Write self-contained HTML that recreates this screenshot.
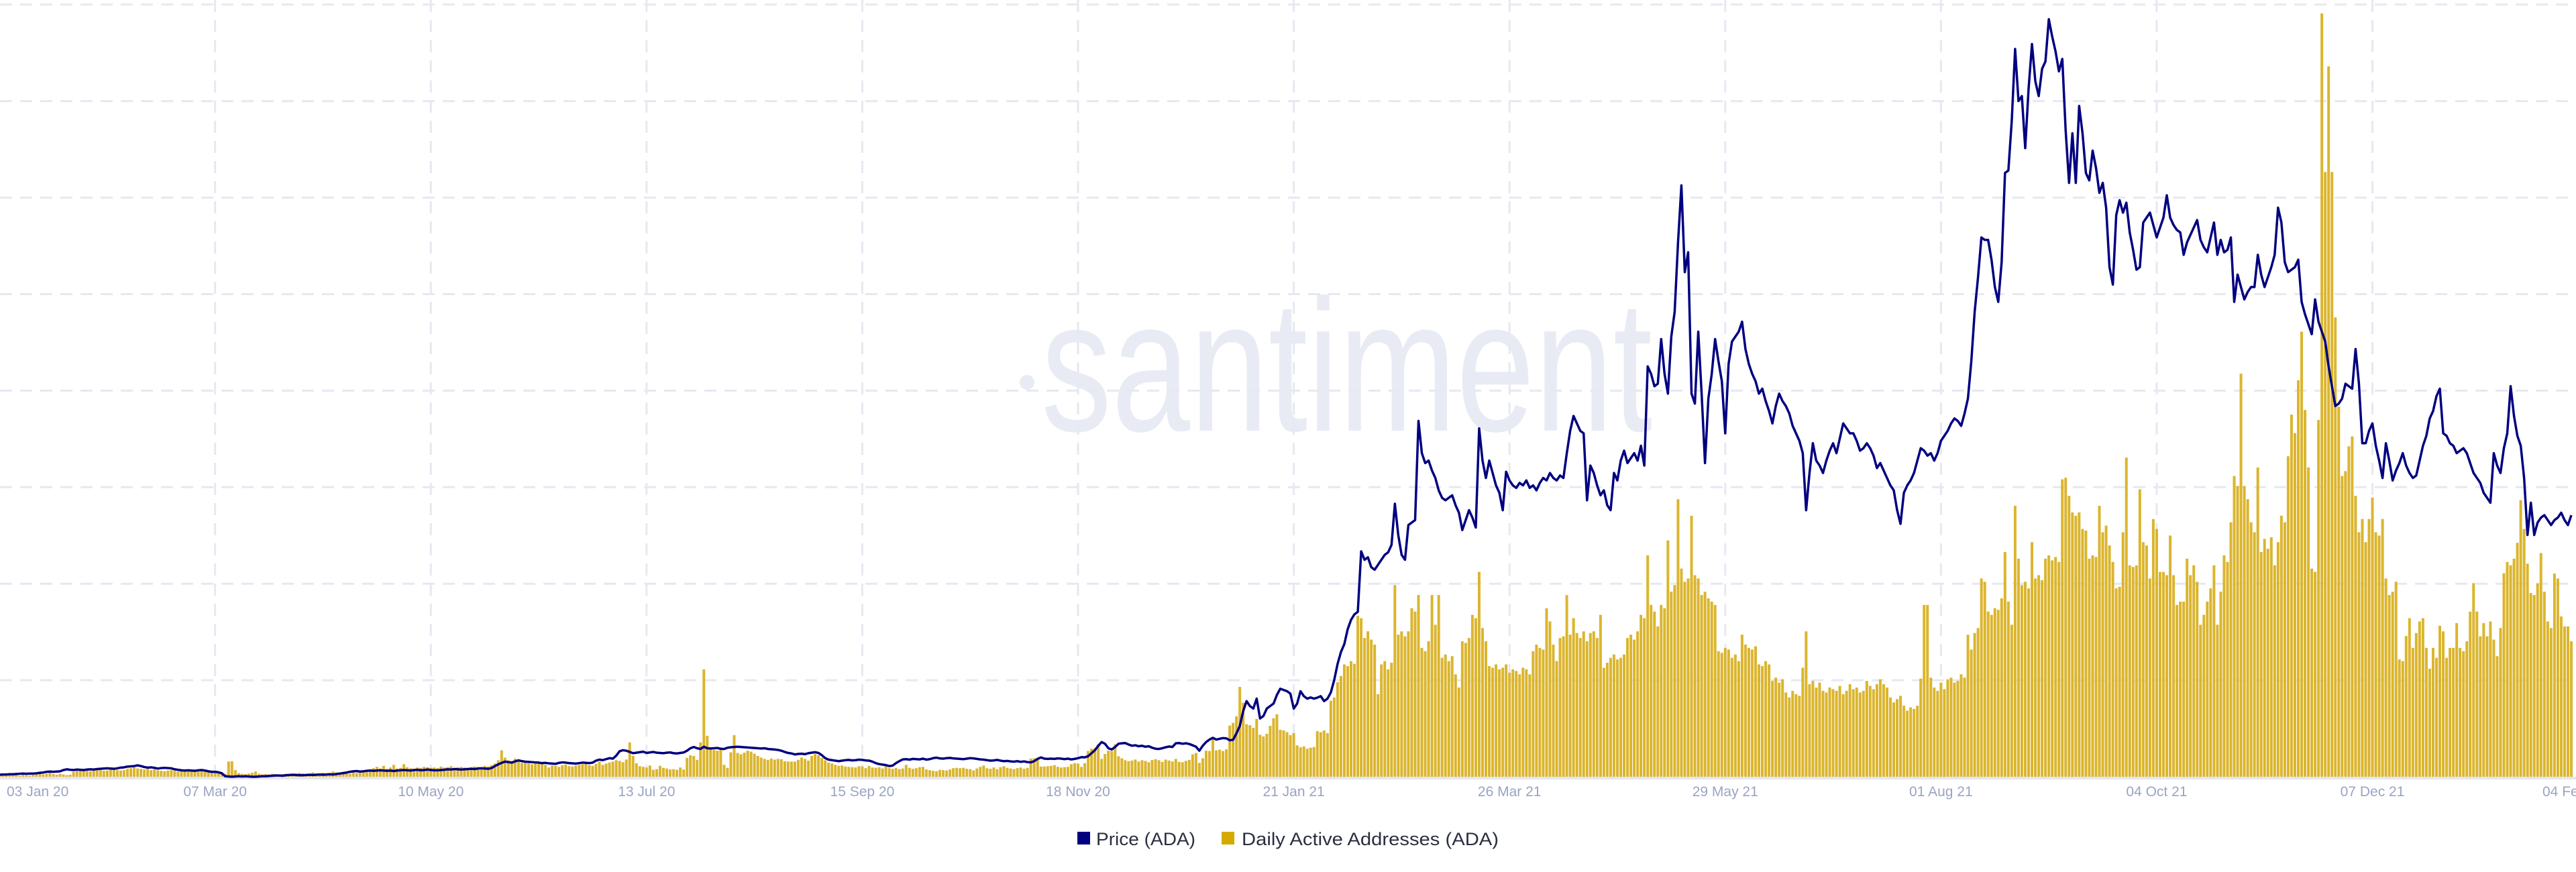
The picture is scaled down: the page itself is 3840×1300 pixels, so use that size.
<!DOCTYPE html>
<html><head><meta charset="utf-8"><title>ADA Price vs Daily Active Addresses</title>
<style>
html,body{margin:0;padding:0;background:#fff;}
svg{display:block;font-family:"Liberation Sans",sans-serif;}
</style></head>
<body>
<svg id="chart" width="3840" height="1300" viewBox="0 0 3840 1300" xmlns="http://www.w3.org/2000/svg">
<rect x="0" y="0" width="3840" height="1300" fill="#ffffff"/>
<g>
<circle cx="1531" cy="570" r="11" fill="#e9ebf4"/>
<text x="1552" y="642" font-size="280" fill="#e9ebf4" textLength="911" lengthAdjust="spacingAndGlyphs">santiment</text>
</g>
<g id="grid"></g>
<line x1="0" y1="1160" x2="3840" y2="1160" stroke="#e3e6f0" stroke-width="4"/>
<g id="bars"></g>
<g id="line"></g>
<g id="ticks"></g>
<g>
<g>
<rect x="1606" y="1240" width="19" height="19" fill="#000080"/>
<text x="1634" y="1260" font-size="27" fill="#2a2e3e" textLength="148" lengthAdjust="spacingAndGlyphs">Price (ADA)</text>
</g>
<g>
<rect x="1821" y="1240" width="19" height="19" fill="#d4aa00"/>
<text x="1851" y="1260" font-size="27" fill="#2a2e3e" textLength="383" lengthAdjust="spacingAndGlyphs">Daily Active Addresses (ADA)</text>
</g>
</g>
</svg>
<script>
const startDay = 2;
const priceValues = [
0.033,0.034,0.034,0.035,0.035,0.036,0.037,0.038,0.037,0.038,
0.038,0.039,0.041,0.042,0.045,0.046,0.045,0.046,0.047,0.052,
0.055,0.053,0.052,0.054,0.053,0.052,0.054,0.055,0.054,0.056,
0.057,0.058,0.059,0.058,0.057,0.059,0.062,0.063,0.066,0.067,
0.068,0.071,0.068,0.064,0.062,0.063,0.061,0.058,0.060,0.061,
0.060,0.059,0.055,0.053,0.051,0.050,0.051,0.050,0.049,0.051,
0.052,0.050,0.047,0.045,0.045,0.043,0.039,0.027,0.026,0.025,
0.026,0.027,0.026,0.027,0.026,0.025,0.025,0.026,0.027,0.027,
0.028,0.029,0.030,0.030,0.029,0.031,0.032,0.033,0.032,0.031,
0.031,0.032,0.033,0.032,0.033,0.034,0.033,0.034,0.035,0.034,
0.036,0.038,0.040,0.042,0.045,0.047,0.048,0.046,0.047,0.049,
0.050,0.049,0.050,0.051,0.050,0.049,0.050,0.048,0.050,0.051,
0.052,0.051,0.050,0.052,0.053,0.051,0.052,0.054,0.052,0.051,
0.051,0.052,0.053,0.055,0.054,0.056,0.055,0.054,0.055,0.056,
0.057,0.056,0.058,0.059,0.058,0.057,0.060,0.068,0.075,0.081,
0.086,0.084,0.082,0.087,0.091,0.088,0.086,0.085,0.084,0.083,
0.082,0.080,0.081,0.079,0.078,0.077,0.081,0.083,0.082,0.080,
0.079,0.078,0.080,0.082,0.081,0.080,0.082,0.090,0.094,0.092,
0.096,0.100,0.098,0.110,0.128,0.132,0.130,0.125,0.120,0.122,
0.124,0.126,0.121,0.123,0.125,0.122,0.121,0.120,0.122,0.123,
0.120,0.119,0.121,0.123,0.130,0.140,0.145,0.140,0.137,0.146,
0.140,0.139,0.140,0.141,0.138,0.137,0.142,0.144,0.145,0.146,
0.145,0.144,0.143,0.142,0.141,0.140,0.139,0.140,0.137,0.136,
0.135,0.133,0.130,0.125,0.121,0.119,0.115,0.117,0.118,0.116,
0.120,0.122,0.124,0.121,0.112,0.100,0.094,0.092,0.090,0.088,
0.090,0.092,0.093,0.091,0.092,0.094,0.093,0.091,0.090,0.086,
0.080,0.076,0.074,0.072,0.068,0.070,0.080,0.088,0.095,0.096,
0.094,0.097,0.096,0.095,0.098,0.094,0.096,0.100,0.102,0.099,
0.098,0.100,0.101,0.099,0.098,0.097,0.096,0.098,0.100,0.099,
0.097,0.095,0.094,0.092,0.090,0.091,0.093,0.090,0.088,0.089,
0.087,0.086,0.088,0.085,0.087,0.084,0.083,0.088,0.097,0.103,
0.098,0.097,0.098,0.097,0.099,0.098,0.096,0.098,0.095,0.097,
0.100,0.104,0.103,0.108,0.120,0.132,0.150,0.165,0.158,0.140,
0.135,0.145,0.158,0.160,0.161,0.155,0.150,0.152,0.148,0.150,
0.146,0.148,0.142,0.138,0.137,0.140,0.144,0.147,0.145,0.160,
0.161,0.158,0.160,0.157,0.152,0.146,0.130,0.150,0.165,0.175,
0.182,0.175,0.178,0.181,0.180,0.172,0.174,0.200,0.230,0.290,
0.330,0.310,0.300,0.340,0.260,0.270,0.300,0.310,0.320,0.355,
0.380,0.375,0.370,0.360,0.300,0.320,0.370,0.350,0.340,0.345,
0.340,0.344,0.350,0.330,0.340,0.365,0.415,0.480,0.528,0.560,
0.620,0.658,0.680,0.690,0.934,0.900,0.910,0.870,0.860,0.880,
0.900,0.920,0.930,0.960,1.126,1.000,0.920,0.900,1.040,1.050,
1.060,1.460,1.330,1.290,1.300,1.260,1.230,1.180,1.150,1.140,
1.150,1.160,1.120,1.090,1.020,1.060,1.100,1.070,1.030,1.430,
1.300,1.230,1.300,1.250,1.200,1.170,1.100,1.255,1.220,1.200,
1.190,1.210,1.200,1.220,1.190,1.200,1.180,1.210,1.230,1.220,
1.250,1.230,1.220,1.240,1.230,1.330,1.420,1.480,1.450,1.420,
1.410,1.140,1.280,1.250,1.200,1.160,1.180,1.120,1.100,1.250,
1.220,1.300,1.340,1.290,1.310,1.330,1.300,1.360,1.280,1.680,
1.650,1.600,1.610,1.790,1.650,1.570,1.800,1.900,2.180,2.410,
2.060,2.140,1.570,1.530,1.820,1.570,1.290,1.550,1.650,1.790,
1.700,1.620,1.410,1.690,1.780,1.800,1.820,1.860,1.750,1.690,
1.650,1.620,1.570,1.590,1.540,1.500,1.450,1.520,1.570,1.540,
1.520,1.490,1.440,1.410,1.380,1.330,1.100,1.250,1.370,1.300,
1.280,1.250,1.300,1.340,1.370,1.330,1.390,1.450,1.430,1.410,
1.410,1.380,1.340,1.350,1.370,1.350,1.320,1.270,1.290,1.260,
1.230,1.200,1.180,1.100,1.045,1.170,1.200,1.220,1.250,1.300,
1.350,1.340,1.320,1.330,1.300,1.330,1.380,1.400,1.420,1.450,
1.470,1.460,1.440,1.490,1.550,1.700,1.900,2.040,2.200,2.190,
2.190,2.110,2.000,1.940,2.100,2.460,2.470,2.670,2.960,2.750,
2.770,2.560,2.800,2.980,2.830,2.770,2.880,2.910,3.080,3.010,
2.950,2.870,2.920,2.630,2.420,2.620,2.420,2.730,2.620,2.460,
2.430,2.550,2.480,2.380,2.420,2.320,2.080,2.010,2.290,2.350,
2.300,2.340,2.220,2.150,2.070,2.080,2.260,2.280,2.300,2.250,
2.200,2.240,2.280,2.370,2.280,2.250,2.230,2.220,2.130,2.180,
2.210,2.240,2.270,2.190,2.160,2.140,2.200,2.260,2.130,2.190,
2.140,2.150,2.200,1.940,2.050,2.000,1.950,1.980,2.000,2.000,
2.130,2.050,2.000,2.040,2.080,2.130,2.320,2.260,2.100,2.060,
2.070,2.080,2.110,1.940,1.890,1.850,1.810,1.950,1.860,1.820,
1.780,1.680,1.600,1.520,1.530,1.550,1.610,1.600,1.590,1.750,
1.610,1.370,1.370,1.420,1.450,1.360,1.300,1.230,1.370,1.300,
1.220,1.260,1.290,1.330,1.280,1.250,1.230,1.240,1.300,1.360,
1.400,1.470,1.500,1.560,1.590,1.410,1.400,1.370,1.360,1.330,
1.340,1.350,1.330,1.290,1.250,1.230,1.210,1.170,1.150,1.130,
1.330,1.280,1.250,1.350,1.410,1.600,1.480,1.400,1.360,1.230,
1.000,1.130,1.000,1.050,1.070,1.080,1.060,1.040,1.060,1.070,
1.090,1.060,1.040,1.080
];
const addressValues = [
0.4,0.3,0.5,0.6,0.4,0.5,0.3,0.6,0.5,0.4,
0.6,0.8,1.0,0.7,0.9,1.2,0.8,0.6,0.9,0.7,
0.5,0.6,1.5,1.8,1.9,2.0,1.8,1.7,1.9,2.1,
2.0,1.8,1.9,2.2,2.1,2.0,1.9,2.0,2.4,2.6,
2.8,2.5,2.4,2.2,2.9,2.0,2.3,1.9,1.8,1.7,
1.9,2.0,1.8,1.6,1.7,1.9,1.8,1.7,1.5,1.6,
1.7,1.5,1.6,1.4,1.3,1.0,0.8,0.9,4.6,4.7,
2.0,1.1,0.9,0.8,1.0,1.2,1.6,0.9,0.7,0.8,
0.7,0.9,0.8,0.6,0.8,0.9,0.8,0.7,1.0,1.2,
1.0,0.8,0.9,1.3,0.7,0.8,1.2,1.0,1.1,1.6,
1.3,1.2,1.0,1.1,0.9,1.3,1.1,1.5,2.0,1.4,
2.2,2.6,3.0,2.5,3.3,2.4,2.8,3.6,2.5,2.7,
3.8,2.9,2.6,2.4,2.8,2.7,3.0,2.9,2.7,2.8,
2.6,3.1,2.8,2.9,3.2,2.7,2.9,3.0,2.8,2.7,
2.9,3.1,3.0,2.8,3.3,3.1,3.5,4.0,5.0,8.0,
5.8,5.0,4.8,5.5,4.6,4.2,4.5,4.0,3.8,4.3,
4.1,3.9,3.6,2.8,3.4,3.3,3.0,3.5,3.7,3.2,
3.1,3.4,3.6,3.8,4.1,3.5,3.3,3.9,4.5,3.6,
4.0,4.3,4.6,5.0,4.8,4.4,5.2,10.4,6.3,4.1,
3.2,3.0,2.8,3.4,2.1,2.3,3.3,2.7,2.5,2.2,
2.3,2.1,2.8,2.2,5.7,6.5,6.3,5.1,10.4,32.5,
12.4,8.4,8.1,7.9,8.4,3.6,2.7,7.4,12.6,7.2,
6.8,7.3,7.9,7.6,7.0,6.3,5.8,5.4,5.1,5.5,
5.2,5.4,5.3,4.7,4.6,4.6,4.6,5.1,5.8,5.4,
4.9,6.3,6.9,6.5,5.7,5.0,4.3,4.0,3.6,3.3,
3.4,3.1,3.0,2.9,2.8,3.2,3.1,2.6,3.3,2.8,
2.7,2.9,2.5,3.2,2.6,2.4,2.7,2.3,2.5,3.6,
2.7,2.4,2.6,2.9,3.0,2.2,2.0,1.8,1.7,2.1,
2.0,1.9,2.2,2.6,2.7,2.6,2.7,2.4,2.3,1.9,
2.5,3.0,3.4,2.6,2.4,2.8,2.3,2.9,3.2,2.7,
2.5,2.3,2.6,2.8,2.4,2.7,5.5,5.6,5.4,3.1,
3.1,3.2,3.3,3.5,3.0,2.8,2.9,3.0,3.8,4.1,
4.0,3.0,4.1,7.8,8.5,8.6,9.8,5.4,6.9,7.9,
7.8,9.8,6.2,5.6,5.0,4.7,4.9,5.2,4.6,5.0,
4.8,4.4,5.1,5.3,5.0,4.5,5.2,4.9,4.6,5.4,
4.5,4.4,4.8,5.1,6.8,7.2,4.2,5.6,7.9,7.8,
11.4,8.0,8.2,7.8,8.3,15.5,16.3,18.3,27.2,22.4,
15.9,15.6,14.8,17.5,12.7,12.2,13.0,15.4,17.7,18.9,
14.2,14.0,13.5,12.6,13.2,9.5,8.9,9.2,8.5,8.8,
9.0,13.8,13.5,14.0,13.2,23.0,24.0,28.6,30.5,34.0,
33.5,35.0,34.2,48.7,48.0,42.0,44.0,41.5,40.0,25.0,
34.0,35.0,32.5,34.5,58.0,43.0,44.0,42.5,44.0,51.0,
50.0,55.0,39.0,38.0,41.0,55.0,46.0,55.0,36.0,37.0,
35.0,36.5,31.0,27.0,41.0,40.5,42.0,49.0,48.0,62.0,
45.0,41.0,33.5,33.0,34.0,32.5,33.0,34.0,31.5,32.5,
32.0,31.0,33.0,32.5,31.0,38.0,40.0,39.0,38.5,51.0,
47.0,40.0,35.0,42.0,42.5,55.0,43.0,48.0,43.5,42.0,
44.0,41.0,43.5,44.0,42.0,49.0,33.0,34.5,36.0,37.0,
35.5,36.0,37.0,42.0,43.0,41.5,44.0,49.0,48.0,67.0,
52.0,50.0,45.5,52.0,51.0,71.5,56.0,58.0,84.0,63.0,
59.0,60.0,79.0,61.0,60.0,55.0,56.0,54.0,53.0,52.0,
38.0,37.5,39.0,38.5,36.0,37.0,35.0,43.0,40.0,39.0,
38.5,39.5,34.0,33.5,35.0,34.0,29.0,30.0,28.5,29.5,
25.5,24.0,26.0,25.0,24.5,33.0,44.0,28.0,29.0,27.0,
28.5,26.0,25.5,27.0,26.5,26.0,27.5,25.0,26.0,28.0,
26.5,27.0,25.5,26.0,29.0,27.5,26.5,28.0,29.5,28.0,
27.0,24.0,22.5,23.5,24.5,21.5,20.0,21.0,20.5,21.5,
29.7,52.0,52.0,30.0,27.0,26.0,28.5,26.5,29.5,30.0,
28.5,29.0,31.0,30.0,43.0,38.5,43.5,45.0,60.0,59.0,
50.0,49.0,51.0,50.5,54.0,68.0,53.0,46.0,82.0,66.0,
58.0,59.0,57.0,71.0,60.0,61.0,59.5,66.0,67.0,65.5,
66.5,65.0,90.0,90.5,85.0,80.0,79.0,80.0,75.0,74.5,
66.0,67.0,66.5,82.0,74.0,76.0,70.0,65.0,57.0,57.5,
74.0,96.6,64.0,63.5,64.0,87.0,71.0,70.0,60.0,78.0,
75.0,62.0,62.0,61.0,73.0,61.0,52.0,53.0,53.0,66.0,
61.0,64.0,59.0,46.0,49.0,53.0,57.0,64.0,46.0,56.0,
67.0,65.0,77.0,91.0,88.0,122.0,88.0,84.0,77.0,74.0,
93.6,68.0,72.0,69.0,72.5,64.0,71.0,79.0,77.0,97.0,
109.6,104.0,120.0,134.7,111.0,93.6,63.0,62.0,108.0,231.0,
183.0,215.0,183.0,139.0,112.0,91.0,92.5,100.0,103.0,85.0,
74.0,78.0,71.0,78.0,84.5,74.0,73.0,78.0,60.0,55.0,
56.0,59.0,35.5,35.0,42.6,48.0,39.0,43.5,47.0,48.0,
39.0,32.7,39.0,36.0,45.7,44.0,36.0,39.0,39.0,46.5,
39.0,38.0,41.0,50.0,58.6,50.0,42.5,46.5,42.5,47.0,
41.5,36.5,45.0,61.6,65.0,64.0,66.0,70.8,83.7,75.0,
64.5,55.6,55.0,58.5,67.7,56.0,47.0,45.0,61.5,60.0,
48.5,45.5,45.5,41.0
];
const tickLabels = ["03 Jan 20","07 Mar 20","10 May 20","13 Jul 20","15 Sep 20","18 Nov 20","21 Jan 21","26 Mar 21","29 May 21","01 Aug 21","04 Oct 21","07 Dec 21","04 Feb 22"];
const tickDays = [2,66,130,194,258,322,386,450,514,578,642,706,765];
const gridDays = [66,130,194,258,322,386,450,514,578,642,706];

const NS = "http://www.w3.org/2000/svg";
const PLOT_BOTTOM = 1158;
function xScale(day){ return -11 + day * (3833 + 11) / 765; }
const priceMin = 0.025, priceMax = 3.117;
function yPrice(p){ return PLOT_BOTTOM - (p - priceMin) / (priceMax - priceMin) * (PLOT_BOTTOM - 15); }
const addrMax = 230;
function yAddr(v){ return PLOT_BOTTOM - v / addrMax * (PLOT_BOTTOM - 25); }

const grid = document.getElementById('grid');
for (let k = 1; k <= 8; k++) {
  const y = PLOT_BOTTOM - k * 143.9;
  const l = document.createElementNS(NS, 'line');
  l.setAttribute('x1', 0); l.setAttribute('x2', 3840);
  l.setAttribute('y1', y); l.setAttribute('y2', y);
  l.setAttribute('stroke', '#e6e8f2'); l.setAttribute('stroke-width', 3);
  l.setAttribute('stroke-dasharray', '18 12');
  
  
  grid.appendChild(l);
}
gridDays.forEach(function(d){
  const x = xScale(d);
  const l = document.createElementNS(NS, 'line');
  l.setAttribute('x1', x); l.setAttribute('x2', x);
  l.setAttribute('y1', 0); l.setAttribute('y2', PLOT_BOTTOM);
  l.setAttribute('stroke', '#e6e8f2'); l.setAttribute('stroke-width', 3);
  l.setAttribute('stroke-dasharray', '18 12');
  
  
  grid.appendChild(l);
});

const bars = document.getElementById('bars');
addressValues.forEach(function(v, i){
  const d = startDay + i;
  const y = yAddr(v);
  const r = document.createElementNS(NS, 'rect');
  r.setAttribute('x', (xScale(d) - 2).toFixed(2));
  r.setAttribute('y', y.toFixed(2));
  r.setAttribute('width', 4);
  r.setAttribute('height', Math.max(0, PLOT_BOTTOM - y).toFixed(2));
  r.setAttribute('fill', '#dbb52e');
  
  
  bars.appendChild(r);
});

const lineG = document.getElementById('line');
let dstr = '';
priceValues.forEach(function(p, i){
  const d = startDay + i;
  dstr += (i === 0 ? 'M' : 'L') + xScale(d).toFixed(2) + ',' + yPrice(p).toFixed(2);
});
const path = document.createElementNS(NS, 'path');
path.setAttribute('d', dstr);
path.setAttribute('fill', 'none');
path.setAttribute('stroke', '#000080');
path.setAttribute('stroke-width', 3.5);
path.setAttribute('stroke-linejoin', 'round');


lineG.appendChild(path);

const ticks = document.getElementById('ticks');
tickLabels.forEach(function(lbl, i){
  const t = document.createElementNS(NS, 'text');
  let x = xScale(tickDays[i]);
  let anchor = 'middle';
  if (i === 0) { x = 10; anchor = 'start'; }
  if (i === tickLabels.length - 1) { x = 3790; anchor = 'start'; }
  t.setAttribute('x', x);
  t.setAttribute('y', 1187);
  t.setAttribute('text-anchor', anchor);
  t.setAttribute('font-size', 21);
  t.setAttribute('fill', '#9aa4c2');
  t.textContent = lbl;
  
  
  ticks.appendChild(t);
});
</script>
</body></html>
